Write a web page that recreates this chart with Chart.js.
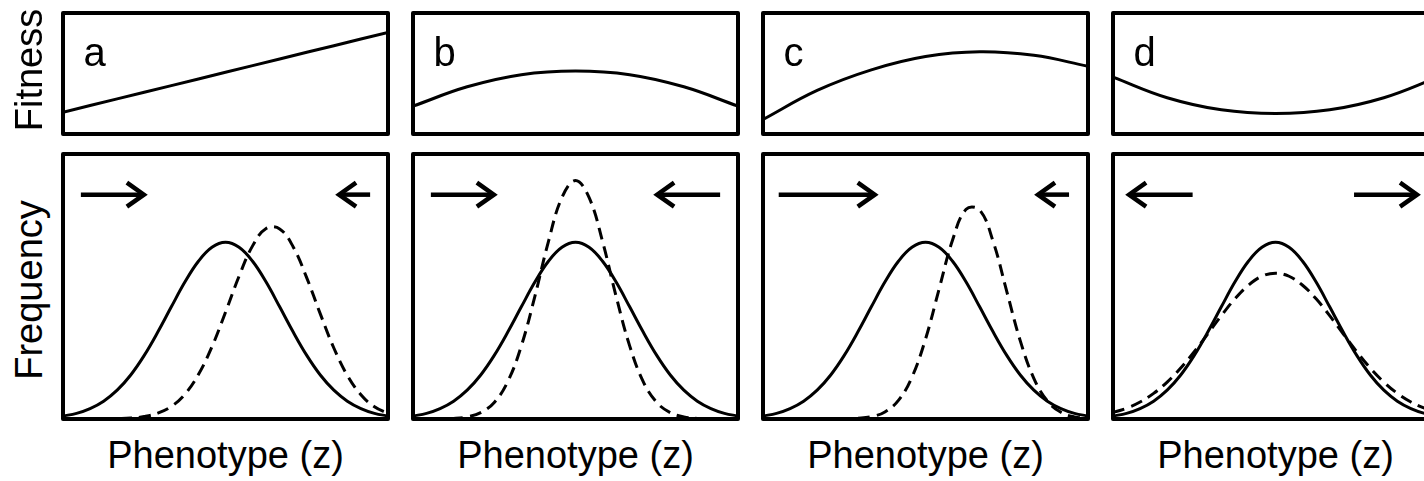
<!DOCTYPE html>
<html>
<head>
<meta charset="utf-8">
<script src="https://cdn.jsdelivr.net/npm/chart.js@4"></script>
<style>
  html, body { margin: 0; padding: 0; background: #fff; overflow: hidden; }
  #fig { position: relative; width: 1424px; height: 481px; overflow: hidden; }
  #fig canvas { position: absolute; }
  .lbl {
    position: absolute;
    font-family: "Liberation Sans", Arial, Helvetica, sans-serif;
    color: #000;
    line-height: 1;
    white-space: nowrap;
  }
</style>
</head>
<body>
<div id="fig"></div>
<script>
// phenotype values (z) shared by the frequency curves
const phenotype = [-3, -2.75, -2.5, -2.25, -2, -1.75, -1.5, -1.25, -1, -0.75, -0.5, -0.25, 0,
                   0.25, 0.5, 0.75, 1, 1.25, 1.5, 1.75, 2, 2.25, 2.5, 2.75, 3];

// distribution before selection (solid), same in every panel
const freqBefore = [0.017, 0.032, 0.059, 0.101, 0.163, 0.249, 0.360, 0.492, 0.635, 0.775, 0.893, 0.972, 1.000,
                    0.972, 0.893, 0.775, 0.635, 0.492, 0.360, 0.249, 0.163, 0.101, 0.059, 0.032, 0.017];

// distributions after selection (dashed)
const freqAfterA = [0, 0, 0, 0, 0.002, 0.005, 0.014, 0.033, 0.071, 0.140, 0.252, 0.409, 0.604,
                    0.808, 0.980, 1.078, 1.076, 0.974, 0.799, 0.595, 0.402, 0.246, 0.137, 0.069, 0.031];
const freqAfterB = [0, 0, 0.001, 0.003, 0.012, 0.036, 0.094, 0.212, 0.414, 0.694, 1.004, 1.254, 1.350,
                    1.254, 1.004, 0.694, 0.414, 0.212, 0.094, 0.036, 0.012, 0.003, 0.001, 0, 0];
const freqAfterC = [0, 0, 0, 0, 0, 0, 0.001, 0.004, 0.013, 0.040, 0.105, 0.237, 0.452,
                    0.734, 1.013, 1.187, 1.183, 1.003, 0.722, 0.442, 0.230, 0.102, 0.038, 0.012, 0.003];
const freqAfterD = [0.037, 0.061, 0.096, 0.145, 0.209, 0.288, 0.381, 0.482, 0.585, 0.680, 0.757, 0.808, 0.825,
                    0.808, 0.757, 0.680, 0.585, 0.482, 0.381, 0.288, 0.209, 0.145, 0.096, 0.061, 0.037];

// fitness functions
const fitnessZ = [-3, -2, -1, 0, 1, 2, 3];
const fitnessA = [0.18, 0.29, 0.40, 0.51, 0.62, 0.73, 0.84];
const fitnessB = [0.23, 0.39, 0.49, 0.52, 0.49, 0.39, 0.23];
const fitnessC = [0.12, 0.36, 0.53, 0.64, 0.68, 0.65, 0.56];
const fitnessD = [0.47, 0.30, 0.20, 0.17, 0.20, 0.30, 0.47];

// direction of selection: [from z, to z]
const arrowsA = [[-2.67, -1.47], [2.67, 2.06]];
const arrowsB = [[-2.67, -1.47], [2.67, 1.47]];
const arrowsC = [[-2.71, -0.90], [2.65, 2.04]];
const arrowsD = [[-1.53, -2.74], [1.45, 2.65]];
const arrowLevel = 1.27;

const panelLetters = ['a', 'b', 'c', 'd'];
const xLabel = 'Phenotype (z)';
const fitnessLabel = 'Fitness';
const frequencyLabel = 'Frequency';

const panels = [
  { fitness: fitnessA, after: freqAfterA, arrows: arrowsA },
  { fitness: fitnessB, after: freqAfterB, arrows: arrowsB },
  { fitness: fitnessC, after: freqAfterC, arrows: arrowsC },
  { fitness: fitnessD, after: freqAfterD, arrows: arrowsD }
];

// layout
const colLeft = [63, 413, 763, 1113];
const boxW = 325;
const topBox = { y: 13, h: 121 };
const botBox = { y: 154, h: 265 };
const PAD = 4;
const FONT = '"Liberation Sans", Arial, Helvetica, sans-serif';

const fig = document.getElementById('fig');

// heavy frame around each plot area
const framePlugin = {
  id: 'frame',
  afterDraw(chart) {
    const { ctx, chartArea: a } = chart;
    ctx.save();
    ctx.lineWidth = 4;
    ctx.lineJoin = 'round';
    ctx.strokeStyle = '#000';
    ctx.strokeRect(a.left, a.top, a.right - a.left, a.bottom - a.top);
    ctx.restore();
  }
};

// horizontal arrows showing the direction of selection
const arrowPlugin = {
  id: 'arrows',
  afterDatasetsDraw(chart, args, opts) {
    if (!opts.items || !opts.items.length) return;
    const { ctx, scales } = chart;
    const py = scales.y.getPixelForValue(opts.level);
    ctx.save();
    ctx.strokeStyle = '#000';
    ctx.lineWidth = 4.5;
    ctx.lineCap = 'butt';
    ctx.lineJoin = 'miter';
    opts.items.forEach(([from, to]) => {
      const x0 = scales.x.getPixelForValue(from);
      const x1 = scales.x.getPixelForValue(to);
      const dir = Math.sign(x1 - x0);
      ctx.beginPath();
      ctx.moveTo(x0, py);
      ctx.lineTo(x1 - dir * 2, py);
      ctx.stroke();
      ctx.beginPath();
      ctx.moveTo(x1 - dir * 19, py - 12);
      ctx.lineTo(x1 - dir * 2, py);
      ctx.lineTo(x1 - dir * 19, py + 12);
      ctx.stroke();
    });
    ctx.restore();
  }
};

function toPoints(xs, ys) {
  return xs.map((x, i) => ({ x: x, y: ys[i] }));
}

function makeChart(left, top, w, h, yMax, datasets, arrows) {
  const canvas = document.createElement('canvas');
  canvas.width = w + PAD * 2;
  canvas.height = h + PAD * 2;
  canvas.style.left = (left - PAD) + 'px';
  canvas.style.top = (top - PAD) + 'px';
  fig.appendChild(canvas);

  return new Chart(canvas.getContext('2d'), {
    type: 'line',
    data: { datasets: datasets },
    options: {
      responsive: false,
      animation: false,
      layout: { padding: PAD },
      elements: { point: { radius: 0 } },
      scales: {
        x: { type: 'linear', min: -3, max: 3, display: false },
        y: { min: 0, max: yMax, display: false }
      },
      plugins: {
        legend: { display: false },
        tooltip: { enabled: false },
        arrows: { items: arrows || [], level: arrowLevel }
      }
    },
    plugins: [framePlugin, arrowPlugin]
  });
}

function addLabel(text, css) {
  const el = document.createElement('div');
  el.className = 'lbl';
  el.textContent = text;
  Object.assign(el.style, css);
  fig.appendChild(el);
}

panels.forEach((p, i) => {
  const left = colLeft[i];

  // fitness panel
  makeChart(left, topBox.y, boxW, topBox.h, 1, [{
    data: toPoints(fitnessZ, p.fitness),
    borderColor: '#000',
    borderWidth: 3,
    tension: 0.4,
    fill: false
  }]);

  // frequency panel
  makeChart(left, botBox.y, boxW, botBox.h, 1.5, [
    {
      label: 'before selection',
      data: toPoints(phenotype, freqBefore),
      borderColor: '#000',
      borderWidth: 3,
      tension: 0.4,
      fill: false
    },
    {
      label: 'after selection',
      data: toPoints(phenotype, p.after),
      borderColor: '#000',
      borderWidth: 3,
      borderDash: [12, 7],
      tension: 0.4,
      fill: false
    }
  ], p.arrows);

  addLabel(panelLetters[i], {
    fontFamily: FONT, fontSize: '40px',
    left: (left + 20.5) + 'px', top: '32px'
  });

  addLabel(xLabel, {
    fontFamily: FONT, fontSize: '38px',
    left: (left + boxW / 2) + 'px', top: '436px',
    transform: 'translateX(-50%)'
  });
});

// row titles on the left
addLabel(fitnessLabel, {
  fontFamily: FONT, fontSize: '38px',
  left: '29px', top: '70px',
  transform: 'translate(-50%, -50%) rotate(-90deg)'
});
addLabel(frequencyLabel, {
  fontFamily: FONT, fontSize: '38px',
  left: '29px', top: '290px',
  transform: 'translate(-50%, -50%) rotate(-90deg)'
});
</script>
</body>
</html>
